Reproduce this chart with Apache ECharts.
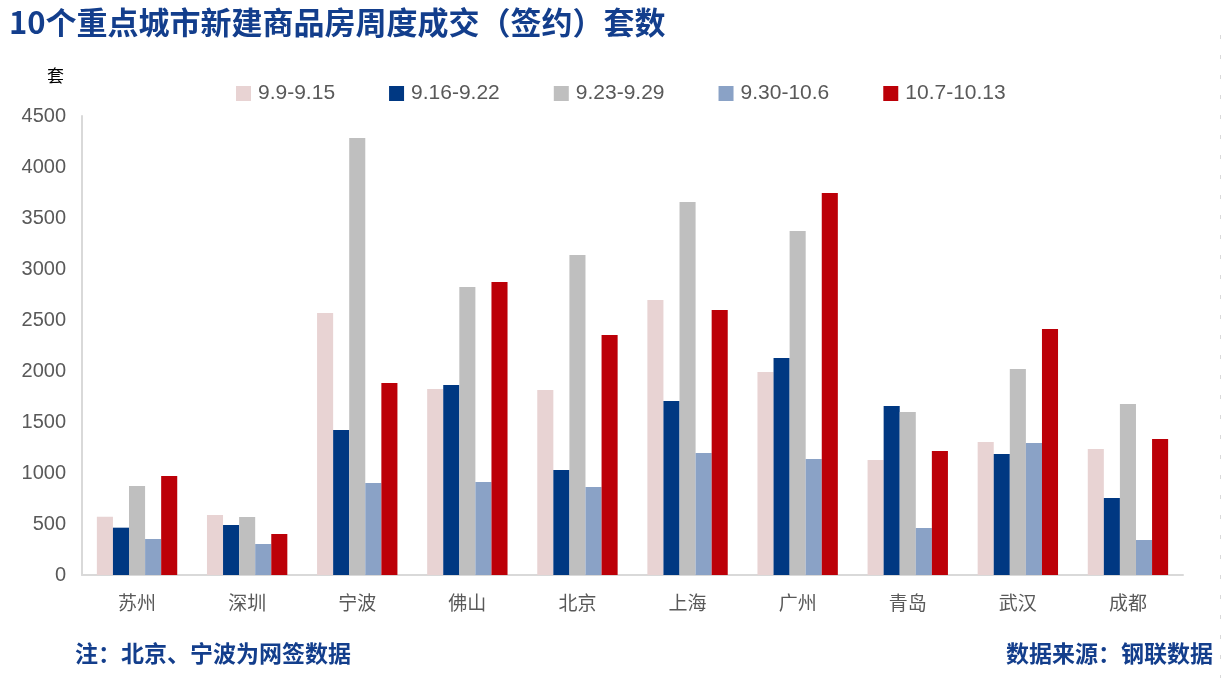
<!DOCTYPE html>
<html>
<head>
<meta charset="utf-8">
<script src="https://cdn.jsdelivr.net/npm/echarts@6/dist/echarts.min.js"></script>
<style>
html,body{margin:0;padding:0;background:#fff;}
#main{width:1223px;height:678px;}
</style>
</head>
<body>
<div id="main"></div>
<script>
var categories = ['苏州','深圳','宁波','佛山','北京','上海','广州','青岛','武汉','成都'];
var seriesNames = ['9.9-9.15','9.16-9.22','9.23-9.29','9.30-10.6','10.7-10.13'];
var w1 = [571, 588, 2569, 1824, 1814, 2696, 1990, 1127, 1304, 1235];
var w2 = [464, 490, 1422, 1863, 1029, 1706, 2127, 1657, 1186, 755];
var w3 = [872, 569, 4284, 2824, 3137, 3657, 3373, 1598, 2020, 1676];
var w4 = [353, 304, 902, 912, 863, 1196, 1137, 461, 1294, 343];
var w5 = [971, 402, 1882, 2873, 2353, 2598, 3745, 1216, 2412, 1333];
var colors = ['#E8D3D3','#003882','#BFBFBF','#8AA2C6','#BC0008'];
var yTicks = {min:0, max:4500, interval:500};

var chart = echarts.init(document.getElementById('main'));
var dataSets = [w1,w2,w3,w4,w5];
var series = dataSets.map(function(d,i){
  return {
    name: seriesNames[i], type:'bar', data:d,
    barGap:'0%', barCategoryGap:'27%',
    itemStyle:{color:colors[i]}
  };
});
chart.setOption({
  animation:false,
  backgroundColor:'#fff',
  color:colors,
  title:{
    text:'10个重点城市新建商品房周度成交（签约）套数',
    left:4, top:2,
    textStyle:{fontFamily:'Noto Sans CJK SC', fontWeight:'bold', fontSize:31, color:'#133E8C'}
  },
  legend:{
    top:78, left:231,
    itemWidth:15, itemHeight:15, itemGap:54,
    icon:'rect',
    textStyle:{fontFamily:'Liberation Sans, Noto Sans', fontSize:21, color:'#595959', padding:[0,0,0,2]}
  },
  grid:{left:82, right:40, top:116, bottom:103, containLabel:false},
  xAxis:{
    type:'category', data:categories,
    axisLine:{lineStyle:{color:'#D9D9D9', width:2}},
    axisTick:{show:false},
    axisLabel:{fontFamily:'Noto Sans CJK SC', fontSize:19, color:'#595959', margin:18}
  },
  yAxis:{
    type:'value', min:yTicks.min, max:yTicks.max, interval:yTicks.interval,
    name:'套', nameLocation:'end', nameGap:32,
    nameTextStyle:{fontFamily:'Noto Sans CJK SC', fontSize:17, color:'#000', align:'right', padding:[0,18,0,0]},
    axisLine:{show:true, lineStyle:{color:'#D9D9D9', width:2}},
    axisTick:{show:false},
    splitLine:{show:false},
    axisLabel:{fontFamily:'Liberation Sans, Noto Sans', fontSize:20, color:'#595959', margin:16,
      formatter:function(v){return String(v);}}
  },
  graphic:[
    {type:'text', left:75, top:642, style:{text:'注：北京、宁波为网签数据', font:'bold 23px "Noto Sans CJK SC"', fill:'#133E8C'}},
    {type:'text', right:10, top:642, style:{text:'数据来源：钢联数据', font:'bold 23px "Noto Sans CJK SC"', fill:'#133E8C'}},
    {type:'line', shape:{x1:1220.5, y1:35, x2:1220.5, y2:678}, style:{stroke:'#D9D9D9', lineWidth:1, lineDash:[4,16]}}
  ],
  series:series
});
</script>
</body>
</html>
